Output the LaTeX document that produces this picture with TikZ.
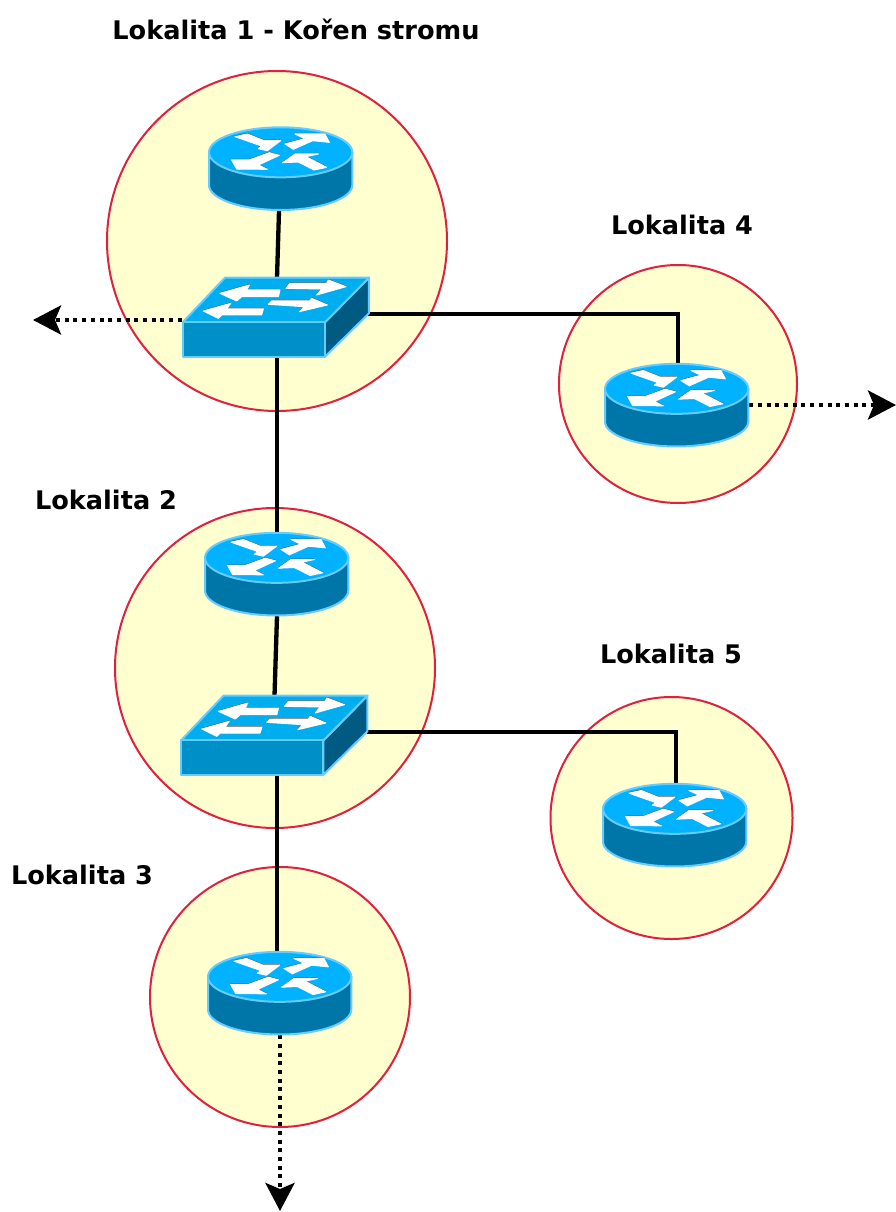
\documentclass[tikz,border=0pt]{standalone}
\usepackage{fontspec}
\setmainfont{DejaVu Sans}
\usetikzlibrary{arrows.meta}
\definecolor{sitefill}{RGB}{255,255,208}
\definecolor{sitered}{RGB}{224,32,60}
\definecolor{devedge}{RGB}{102,204,255}
\definecolor{rtop}{RGB}{0,178,255}
\definecolor{rside}{RGB}{0,118,168}
\definecolor{stop}{RGB}{0,174,239}
\definecolor{sfront}{RGB}{0,144,200}
\definecolor{sside}{RGB}{0,90,130}
\tikzset{
  sitecircle/.style={circle,draw=sitered,fill=sitefill,line width=2pt,inner sep=0pt,minimum size=#1},
  routerbox/.style={inner sep=0pt,minimum width=144pt,minimum height=84pt},
  switchbox/.style={inner sep=0pt,minimum width=186pt,minimum height=79pt},
  label/.style={font=\bfseries\fontsize{25.6}{30}\selectfont,inner sep=0pt,text=black},
  wire/.style={line width=4.3pt,black},
  dotwire/.style={line width=4.3pt,black,dash pattern=on 4pt off 4.7pt,-{Stealth[length=28pt,width=29pt,inset=6pt]}},
  whitearrow/.style={fill=white,draw=white,line width=1pt,line join=round,preaction={fill=black!65,transform canvas={yshift=1pt}}},
  router/.pic={
    \begin{scope}[shift={(-91,-58.5)},scale=0.3333]
      \path[fill=rside,draw=devedge,line width=2pt] (57,127) -- (57,225) arc[start angle=180,end angle=0,x radius=215,y radius=75] -- (487,127) -- cycle;
      \path[fill=rtop,draw=devedge,line width=2pt] (272,127) ellipse[x radius=215,y radius=75];
      \path[whitearrow] (135,80) -- (172,72) -- (222,92) -- (272,92) -- (232,122) -- (205,116) -- (215,108) -- cycle;
      \path[whitearrow] (285,102) -- (345,86) -- (315,72) -- (405,72) -- (418,97) -- (368,92) -- (310,118) -- cycle;
      \path[whitearrow] (125,150) -- (178,150) -- (238,128) -- (268,136) -- (205,165) -- (232,178) -- (140,177) -- cycle;
      \path[whitearrow] (410,172) -- (372,180) -- (325,156) -- (278,158) -- (315,132) -- (385,132) -- (348,140) -- cycle;
    \end{scope}
  },
  switchdev/.pic={
    \begin{scope}[shift={(-105,-52.5)},scale=0.3333]
      \path[fill=sside,draw=devedge,line width=2pt,line join=round] (465,172) -- (597,38) -- (597,145) -- (465,275) -- cycle;
      \path[fill=stop,draw=devedge,line width=2pt,line join=round] (38,172) -- (165,38) -- (597,38) -- (465,172) -- cycle;
      \path[fill=sfront,draw=devedge,line width=2pt,line join=round] (38,172) rectangle (465,275);
      \path[whitearrow] (150,85) -- (238,60) -- (230,75) -- (330,75) -- (325,95) -- (215,95) -- (200,108) -- cycle;
      \path[whitearrow] (348,70) -- (360,55) -- (470,55) -- (475,45) -- (528,65) -- (440,90) -- (455,72) -- cycle;
      \path[whitearrow] (100,138) -- (182,115) -- (170,132) -- (280,132) -- (275,150) -- (155,150) -- (145,160) -- cycle;
      \path[whitearrow] (295,118) -- (305,108) -- (420,108) -- (425,100) -- (472,120) -- (388,140) -- (403,125) -- cycle;
    \end{scope}
  }
}
\begin{document}
\begin{tikzpicture}[x=1pt,y=-1pt]
\useasboundingbox[fill=white] (0,0) rectangle (896,1212);
% sites
\node[sitecircle=340pt] (c1) at (277,241) {};
\node[sitecircle=238pt] (c4) at (678,384) {};
\node[sitecircle=320pt] (c2) at (275,668) {};
\node[sitecircle=242pt] (c5) at (671.5,818) {};
\node[sitecircle=260pt] (c3) at (280,997) {};
% device anchors
\node[routerbox] (r1) at (281,168.5) {};
\node[switchbox] (s1) at (275,317.5) {};
\node[routerbox] (r2) at (277,574) {};
\node[switchbox] (s2) at (273.5,735.5) {};
\node[routerbox] (r3) at (280,993) {};
\node[routerbox] (r4) at (677,405) {};
\node[routerbox] (r5) at (675,825) {};
\coordinate (endw) at (33,320);
\coordinate (ende) at (896,405);
\coordinate (ends) at (280,1211);
% connectors
\draw[wire] ([xshift=-2pt]r1.south) -- ([xshift=2pt]s1.north);
\draw[wire] ([xshift=2pt]s1.south) -- (r2.north);
\draw[wire] (r2.south) -- ([xshift=1pt]s2.north);
\draw[wire] ([xshift=3.5pt]s2.south) -- ([xshift=-3pt]r3.north);
\draw[wire] ([yshift=3.5pt]s1.east) -| ([xshift=1pt]r4.north);
\draw[wire] ([yshift=3.5pt]s2.east) -| ([xshift=1pt]r5.north);
\draw[dotwire] ([yshift=-2.5pt]s1.west) -- (endw);
\draw[dotwire] (r4.east) -- (ende);
\draw[dotwire] (r3.south) -- (ends);
% devices
\pic at (r1) {router};
\pic at (r2) {router};
\pic at (r3) {router};
\pic at (r4) {router};
\pic at (r5) {router};
\pic at (s1) {switchdev};
\pic at (s2) {switchdev};
% labels
\node[label] (l1) at (296,29) {Lokalita 1 - Kořen stromu};
\node[label] (l4) at (682,225) {Lokalita 4};
\node[label] (l2) at (106,500) {Lokalita 2};
\node[label] (l5) at (671,654) {Lokalita 5};
\node[label] (l3) at (82,875) {Lokalita 3};
\end{tikzpicture}
\end{document}
